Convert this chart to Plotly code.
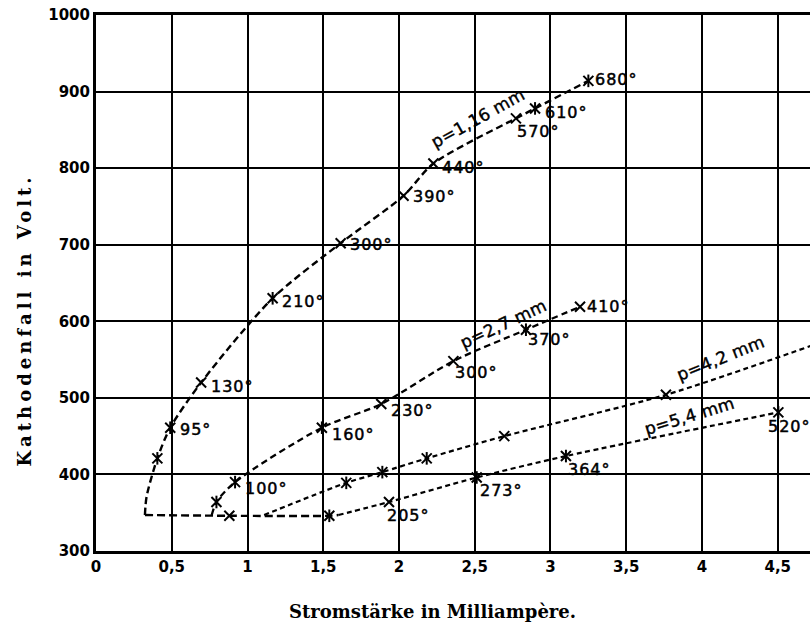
import plotly.graph_objects as go

# Kathodenfall vs. Stromstärke for four gas pressures p; labels give the temperature.
# Common lower branch (normal cathode fall)
base_x = [0.323, 0.88, 1.54, 1.60]
base_y = [347, 346, 346, 347]
base_mark = [None, "x", "*", None]

p116_x = [0.323, 0.334, 0.405, 0.49, 0.694, 1.166, 1.615, 2.03, 2.227, 2.772, 2.898, 3.25]
p116_y = [347, 371, 421, 461, 520, 630, 702, 764, 806, 865, 878, 914]
p116_mark = [None, None, "*", "*", "x", "*", "x", "x", "x", "x", "*", "*"]
p116_temp = ["", "", "", "95°", "130°", "210°", "300°", "390°", "440°", "570°", "610°", "680°"]

p27_x = [0.764, 0.795, 0.918, 1.491, 1.883, 2.359, 2.838, 3.195]
p27_y = [347, 364, 390, 461, 492, 548, 589, 619]
p27_mark = [None, "*", "*", "*", "x", "x", "*", "x"]
p27_temp = ["", "", "100°", "160°", "230°", "300°", "370°", "410°"]

p42_x = [1.11, 1.652, 1.89, 2.183, 2.695, 3.762, 4.72]
p42_y = [347, 389, 403, 421, 450, 504, 568]
p42_mark = [None, "*", "*", "*", "x", "x", None]

p54_x = [1.60, 1.934, 2.513, 3.102, 4.504]
p54_y = [347, 364, 396, 424, 481]
p54_mark = [None, "x", "*", "*", "*"]
p54_temp = ["", "205°", "273°", "364°", "520°"]

x_ticks = [0, 0.5, 1, 1.5, 2, 2.5, 3, 3.5, 4, 4.5]
x_ticktext = ["0", "0,5", "1", "1,5", "2", "2,5", "3", "3,5", "4", "4,5"]
y_ticks = [300, 400, 500, 600, 700, 800, 900, 1000]

curve_labels = ["p=1,16 mm", "p=2,7 mm", "p=4,2 mm", "p=5,4 mm"]
curve_label_x = [2.523, 2.688, 4.123, 3.916]
curve_label_y = [865, 596, 552, 476]
curve_label_angle = [-29, -25, -22, -17]

# label offsets (px): dx right, dy down
p116_off = [None, None, None, (8, 2), (8, 4), (7, 3), (7, 1),
            (7, 1), (7, 4), (-1, 13), (8, 4), (5, -1)]
p27_off = [None, None, (8, 6), (8, 7), (8, 7), (0, 11), (0, 10), (5, 0)]
p54_off = [None, (-4, 14), (1, 13), (0, 13), (-12, 14)]

fig = go.Figure()


def add_curve(xs, ys, marks, dash, width):
    fig.add_trace(go.Scatter(x=xs, y=ys, mode="lines",
                             line=dict(color="black", width=width, dash=dash,
                                       shape="spline", smoothing=0.8),
                             hoverinfo="skip", showlegend=False))
    mx = [x for x, m in zip(xs, marks) if m]
    my = [y for y, m in zip(ys, marks) if m]
    fig.add_trace(go.Scatter(x=mx, y=my, mode="markers",
                             marker=dict(symbol="x-thin-open", size=10, color="black",
                                         line=dict(width=2, color="black")),
                             hoverinfo="skip", showlegend=False))
    sx = [x for x, m in zip(xs, marks) if m == "*"]
    sy = [y for y, m in zip(ys, marks) if m == "*"]
    fig.add_trace(go.Scatter(x=sx, y=sy, mode="markers",
                             marker=dict(symbol="line-ns-open", size=9, color="black",
                                         line=dict(width=2, color="black")),
                             hoverinfo="skip", showlegend=False))


add_curve(base_x, base_y, base_mark, "8px,4px", 2.4)
add_curve(p116_x, p116_y, p116_mark, "7px,4px", 2.4)
add_curve(p27_x, p27_y, p27_mark, "6.5px,4px", 2.3)
add_curve(p42_x, p42_y, p42_mark, "5px,3.5px", 2.2)
add_curve(p54_x, p54_y, p54_mark, "5px,3.5px", 2.2)

label_font = dict(family="DejaVu Sans", size=16, color="black")


def styled(text, spacing, stroke=0.0):
    style = f"letter-spacing:{spacing}px"
    if stroke:
        style += f";stroke:black;stroke-width:{stroke}px"
    return f'<span style="{style}">{text}</span>'


def add_temps(xs, ys, temps, offs):
    for x, y, t, o in zip(xs, ys, temps, offs):
        if not t:
            continue
        dx, dy = o
        fig.add_annotation(x=x, y=y, text=styled(t, 1, 0.5), showarrow=False,
                           xanchor="left", yanchor="middle", xshift=dx, yshift=-dy,
                           font=label_font)


add_temps(p116_x, p116_y, p116_temp, p116_off)
add_temps(p27_x, p27_y, p27_temp, p27_off)
add_temps(p54_x, p54_y, p54_temp, p54_off)

for t, x, y, a in zip(curve_labels, curve_label_x, curve_label_y, curve_label_angle):
    fig.add_annotation(x=x, y=y, text=styled(t, 0.3, 0.4), showarrow=False, textangle=a,
                       xanchor="center", yanchor="middle",
                       font=dict(family="DejaVu Sans", size=17, color="black"))

title_font = dict(family="DejaVu Serif", size=18, color="black", weight="bold")
fig.add_annotation(xref="paper", yref="paper", x=0.4706, y=-0.112,
                   text="Stromstärke in Milliampère.", showarrow=False,
                   xanchor="center", yanchor="middle", font=title_font)
fig.add_annotation(xref="paper", yref="paper", x=-0.1008, y=0.43,
                   text=styled("Kathodenfall in Volt.", 4), showarrow=False, textangle=-90,
                   xanchor="center", yanchor="middle", font=title_font)

tick_font = dict(family="DejaVu Sans", size=15, color="black", weight="bold")
fig.update_xaxes(range=[0, 4.713], tickvals=x_ticks, ticktext=x_ticktext,
                 showgrid=True, gridcolor="black", gridwidth=1.6,
                 showline=True, linecolor="black", linewidth=3, mirror=True,
                 zeroline=False, ticks="", tickfont=tick_font)
fig.update_yaxes(range=[300, 1000], tickvals=y_ticks,
                 showgrid=True, gridcolor="black", gridwidth=1.6,
                 showline=True, linecolor="black", linewidth=3, mirror=False,
                 zeroline=False, ticks="", tickfont=tick_font)

fig.update_layout(width=810, height=627, margin=dict(l=96, r=0, t=15, b=76),
                  paper_bgcolor="white", plot_bgcolor="white")

fig.write_html("out.html")
